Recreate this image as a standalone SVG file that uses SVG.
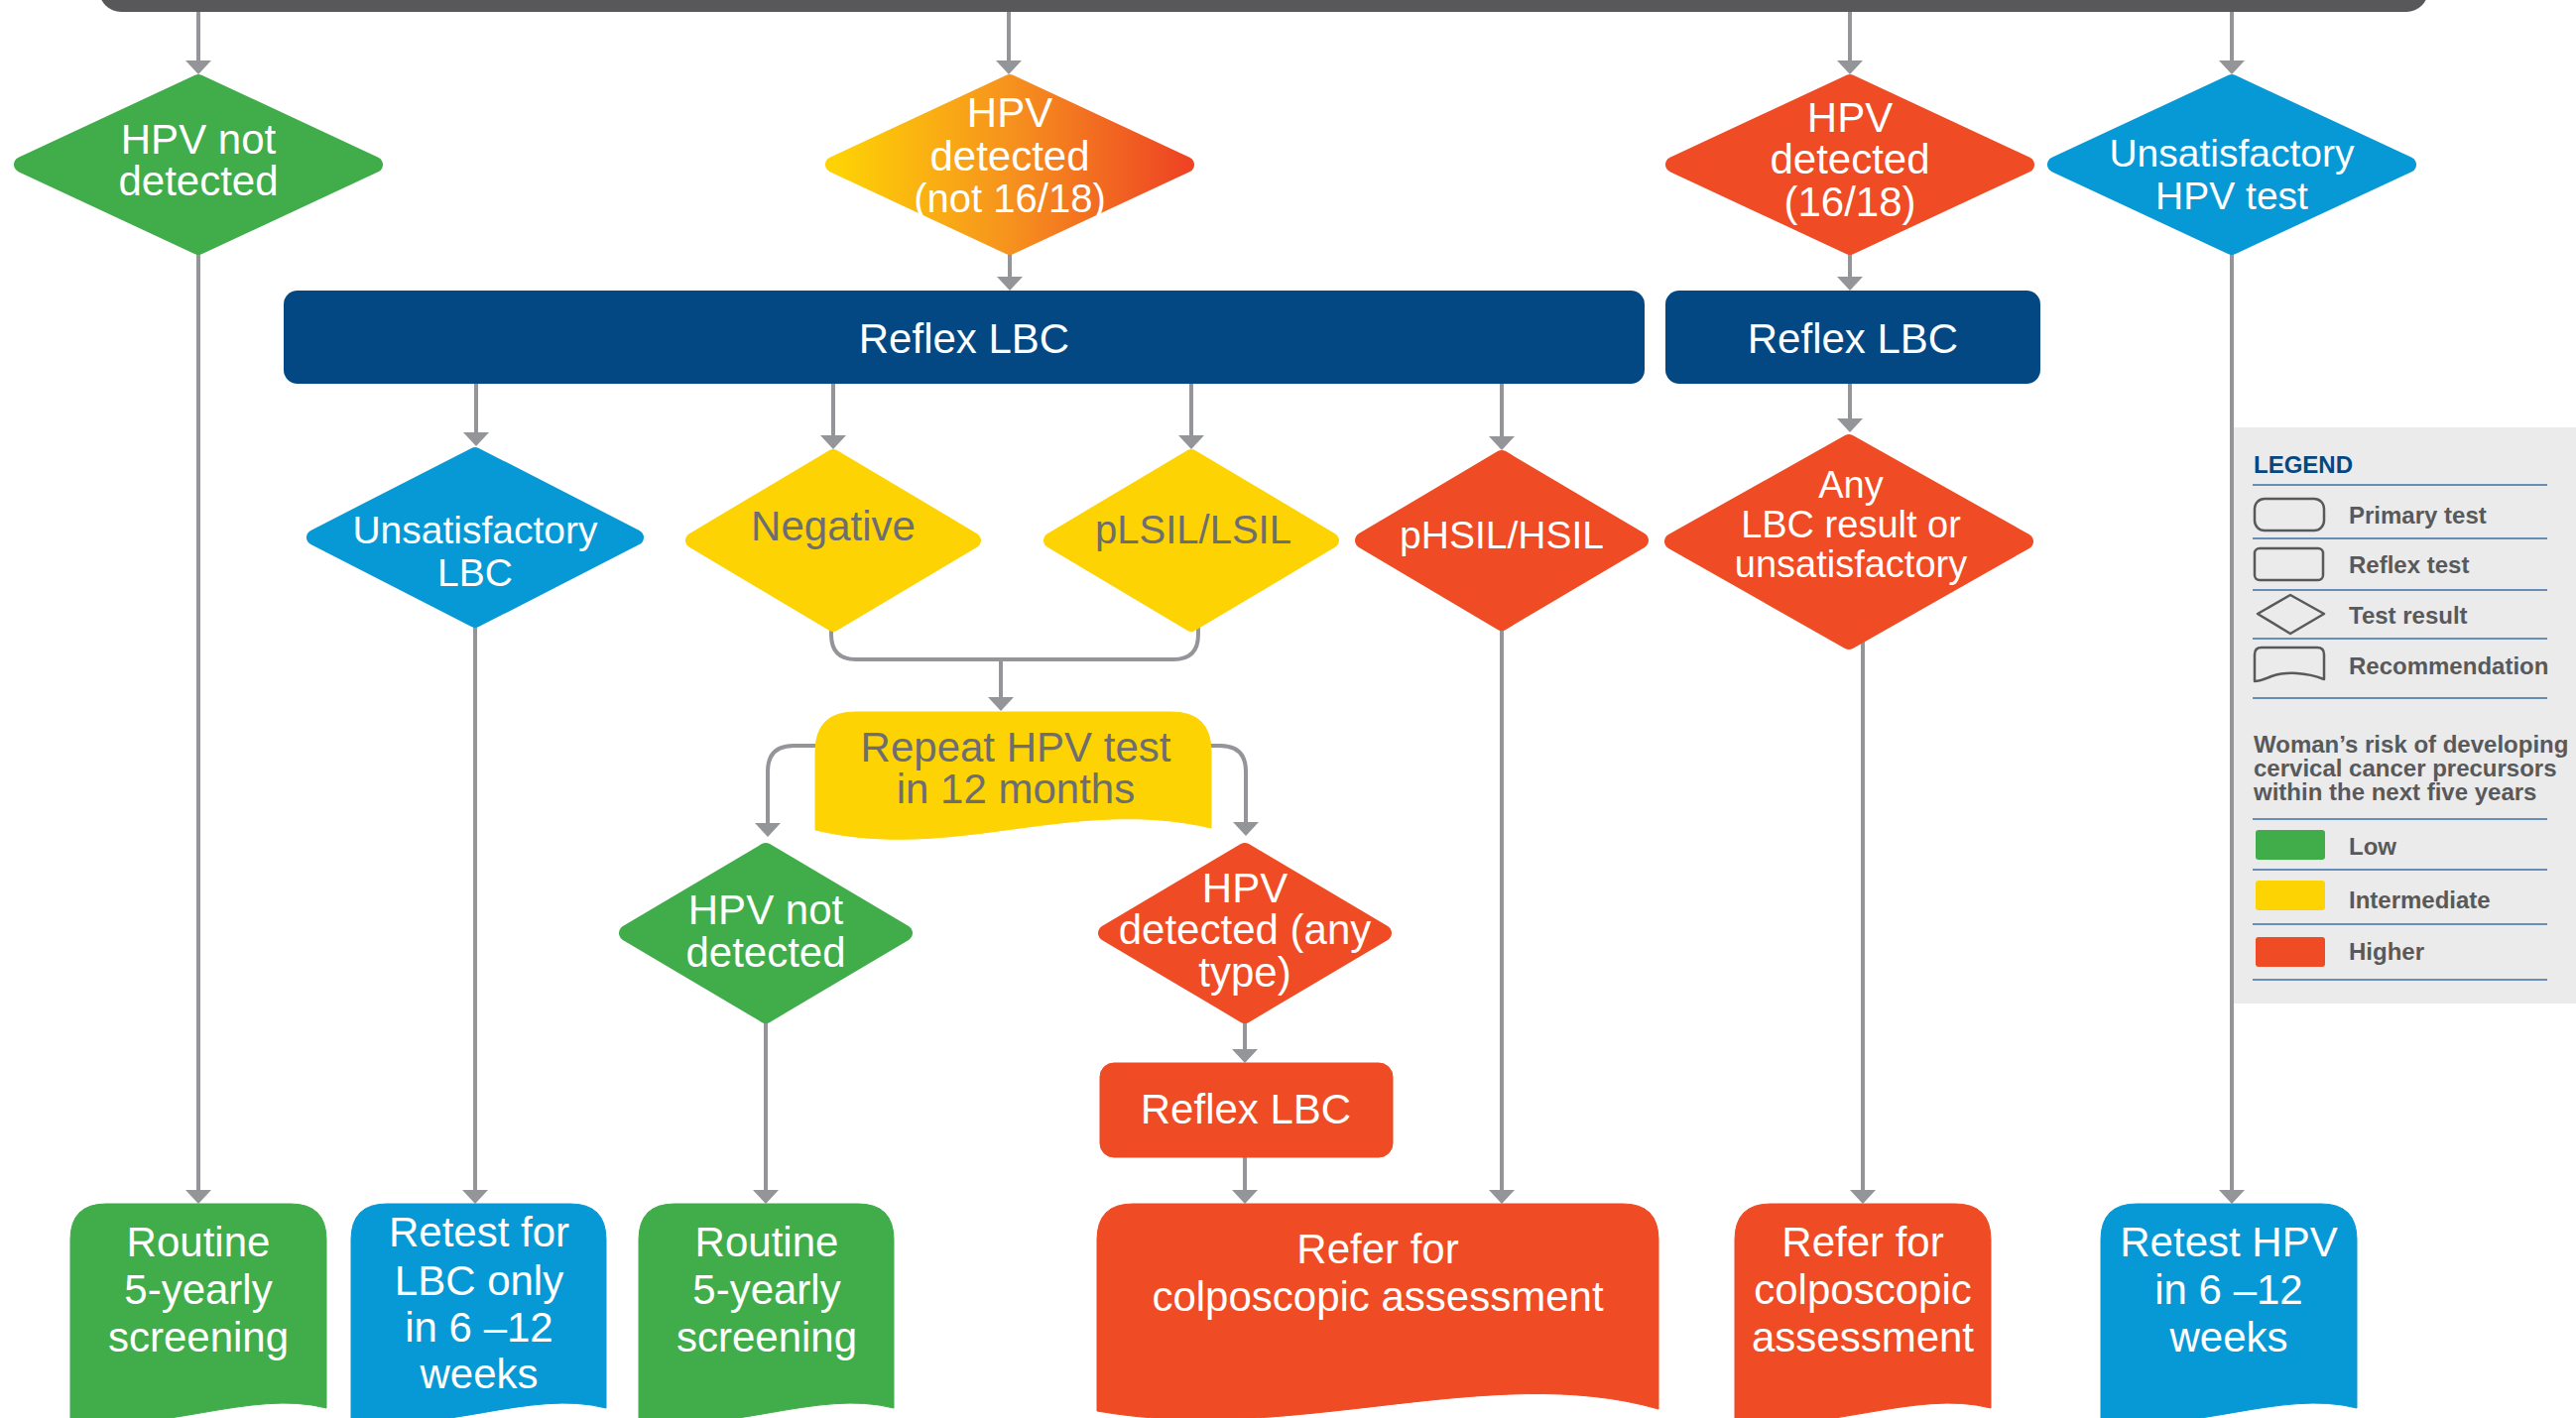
<svg xmlns="http://www.w3.org/2000/svg" width="2597" height="1430" viewBox="0 0 2597 1430">
<defs>
<linearGradient id="gOrange" x1="0" y1="0" x2="1" y2="0">
<stop offset="0" stop-color="#fed304"/>
<stop offset="0.5" stop-color="#f6921e"/>
<stop offset="1" stop-color="#ee4423"/>
</linearGradient>
<marker id="arr" viewBox="0 0 14 26" refX="10" refY="13" markerWidth="14" markerHeight="26" markerUnits="userSpaceOnUse" orient="auto">
<path d="M0,0 L14,13 L0,26 Z" fill="#939598"/>
</marker>
<style>
.t{font-family:"Liberation Sans",Arial,Helvetica,sans-serif;font-size:42px;fill:#fff;text-anchor:middle}
.g{fill:#6d6e71}
.dia{stroke-width:16;stroke-linejoin:round}
.green{fill:#40ad4a;stroke:#40ad4a}
.yellow{fill:#fed304;stroke:#fed304}
.red{fill:#ef4b24;stroke:#ef4b24}
.blue{fill:#0799d6;stroke:#0799d6}
.navy{fill:#034882}
.c{fill:none;stroke:#939598;stroke-width:4}
.ca{fill:none;stroke:#939598;stroke-width:4;marker-end:url(#arr)}
.lt{font-family:"Liberation Sans",Arial,Helvetica,sans-serif;font-size:24px;font-weight:bold;fill:#58595b}
.sep{stroke:#3d6fa6;stroke-width:1.6}
.ico{fill:none;stroke:#58595b;stroke-width:2.5;stroke-linejoin:round}
</style>
</defs>

<rect x="100" y="-40" width="2348" height="52" rx="22" fill="#58585a"/>

<g id="legend">
<rect x="2252" y="431" width="345" height="581" fill="#ebebeb"/>
<text class="lt" x="2272" y="477" style="fill:#034882">LEGEND</text>
<line class="sep" x1="2271" y1="489" x2="2568" y2="489"/>
<rect class="ico" x="2273" y="503" width="70" height="32" rx="10"/>
<text class="lt" x="2368" y="528">Primary test</text>
<line class="sep" x1="2271" y1="543" x2="2568" y2="543"/>
<rect class="ico" x="2273" y="553" width="69" height="32" rx="5"/>
<text class="lt" x="2368" y="578">Reflex test</text>
<line class="sep" x1="2271" y1="595" x2="2568" y2="595"/>
<path class="ico" d="M2276,619 L2309,600 L2343,619 L2309,639 Z"/>
<text class="lt" x="2368" y="629">Test result</text>
<line class="sep" x1="2271" y1="644" x2="2568" y2="644"/>
<path class="ico" d="M2273,687 V660 Q2273,653 2280,653 H2336 Q2343,653 2343,660 V685 C2325,678 2305,677 2290,682 C2283,685 2278,687 2273,687 Z"/>
<text class="lt" x="2368" y="680">Recommendation</text>
<line class="sep" x1="2271" y1="704" x2="2568" y2="704"/>
<text class="lt" x="2272" y="759">Woman’s risk of developing</text>
<text class="lt" x="2272" y="783">cervical cancer precursors</text>
<text class="lt" x="2272" y="807">within the next five years</text>
<line class="sep" x1="2271" y1="826" x2="2568" y2="826"/>
<rect x="2274" y="837" width="70" height="30" rx="3" fill="#40ad4a"/>
<text class="lt" x="2368" y="862">Low</text>
<line class="sep" x1="2271" y1="877" x2="2568" y2="877"/>
<rect x="2274" y="888" width="70" height="30" rx="3" fill="#fed304"/>
<text class="lt" x="2368" y="916">Intermediate</text>
<line class="sep" x1="2271" y1="932" x2="2568" y2="932"/>
<rect x="2274" y="945" width="70" height="30" rx="3" fill="#ef4b24"/>
<text class="lt" x="2368" y="968">Higher</text>
<line class="sep" x1="2271" y1="988" x2="2568" y2="988"/>
</g>

<g id="connectors">
<line class="ca" x1="200" y1="12" x2="200" y2="71"/>
<line class="ca" x1="1017" y1="12" x2="1017" y2="71"/>
<line class="ca" x1="1865" y1="12" x2="1865" y2="71"/>
<line class="ca" x1="2250" y1="12" x2="2250" y2="71"/>
<line class="ca" x1="1018" y1="250" x2="1018" y2="289"/>
<line class="ca" x1="1865" y1="250" x2="1865" y2="289"/>
<line class="ca" x1="200" y1="250" x2="200" y2="1210"/>
<line class="ca" x1="2250" y1="250" x2="2250" y2="1210"/>
<line class="ca" x1="480" y1="387" x2="480" y2="446"/>
<line class="ca" x1="840" y1="387" x2="840" y2="449"/>
<line class="ca" x1="1201" y1="387" x2="1201" y2="449"/>
<line class="ca" x1="1514" y1="387" x2="1514" y2="450"/>
<line class="ca" x1="1865" y1="387" x2="1865" y2="432"/>
<line class="ca" x1="479" y1="625" x2="479" y2="1210"/>
<path class="c" d="M838,628 V640 Q838,665 863,665 H1183 Q1208,665 1208,640 V628"/>
<line class="ca" x1="1009" y1="665" x2="1009" y2="713"/>
<path class="ca" d="M822,752 H800 Q774,752 774,778 V840"/>
<path class="ca" d="M1221,752 H1230 Q1256,752 1256,778 V839"/>
<line class="ca" x1="772" y1="1025" x2="772" y2="1210"/>
<line class="ca" x1="1255" y1="1025" x2="1255" y2="1068"/>
<line class="ca" x1="1255" y1="1167" x2="1255" y2="1210"/>
<line class="ca" x1="1514" y1="628" x2="1514" y2="1210"/>
<line class="ca" x1="1878" y1="640" x2="1878" y2="1210"/>
</g>

<g id="hpv-not-detected">
<path class="dia green" d="M200,83 L378,166 L200,249 L22,166 Z"/>
<text class="t" x="200" y="155">HPV not</text>
<text class="t" x="200" y="197">detected</text>
</g>
<g id="hpv-detected-not-16-18">
<path class="dia" fill="url(#gOrange)" stroke="url(#gOrange)" d="M1018,83 L1196,166 L1018,249 L840,166 Z"/>
<text class="t" x="1018" y="128">HPV</text>
<text class="t" x="1018" y="172">detected</text>
<text class="t" x="1018" y="214" style="font-size:40px">(not 16/18)</text>
</g>
<g id="hpv-detected-16-18">
<path class="dia red" d="M1865,83 L2043,166 L1865,249 L1687,166 Z"/>
<text class="t" x="1865" y="133">HPV</text>
<text class="t" x="1865" y="175">detected</text>
<text class="t" x="1865" y="218">(16/18)</text>
</g>
<g id="unsatisfactory-hpv">
<path class="dia blue" d="M2250,83 L2428,166 L2250,249 L2072,166 Z"/>
<text class="t" x="2250" y="168" style="font-size:39px">Unsatisfactory</text>
<text class="t" x="2250" y="211" style="font-size:39px">HPV test</text>
</g>

<g id="reflex-lbc-1">
<rect class="navy" x="286" y="293" width="1372" height="94" rx="14"/>
<text class="t" x="972" y="356">Reflex LBC</text>
</g>
<g id="reflex-lbc-2">
<rect class="navy" x="1679" y="293" width="378" height="94" rx="14"/>
<text class="t" x="1868" y="356">Reflex LBC</text>
</g>

<g id="unsatisfactory-lbc">
<path class="dia blue" d="M479,459 L641,542 L479,625 L317,542 Z"/>
<text class="t" x="479" y="548" style="font-size:39px">Unsatisfactory</text>
<text class="t" x="479" y="591" style="font-size:39px">LBC</text>
</g>
<g id="negative">
<path class="dia yellow" d="M840,461 L981,545 L840,629 L699,545 Z"/>
<text class="t g" x="840" y="545">Negative</text>
</g>
<g id="plsil">
<path class="dia yellow" d="M1201,461 L1342,545 L1201,629 L1060,545 Z"/>
<text class="t g" x="1203" y="548" style="font-size:40px">pLSIL/LSIL</text>
</g>
<g id="phsil">
<path class="dia red" d="M1514,462 L1654,545 L1514,628 L1374,545 Z"/>
<text class="t" x="1514" y="553" style="font-size:39px">pHSIL/HSIL</text>
</g>
<g id="any-lbc">
<path class="dia red" d="M1864,446 L2042,546 L1864,647 L1686,546 Z"/>
<text class="t" x="1866" y="502" style="font-size:38px">Any</text>
<text class="t" x="1866" y="542" style="font-size:38px">LBC result or</text>
<text class="t" x="1866" y="582" style="font-size:38px">unsatisfactory</text>
</g>

<g id="repeat-hpv">
<path class="yellow" stroke="none" d="M822,758 Q822,718 862,718 H1181 Q1221,718 1221,758 V835 C1081,802 962,870 822,837 Z"/>
<text class="t g" x="1024" y="768">Repeat HPV test</text>
<text class="t g" x="1024" y="810">in 12 months</text>
</g>

<g id="hpv-not-detected-2">
<path class="dia green" d="M772,858 L912,941 L772,1024 L632,941 Z"/>
<text class="t" x="772" y="932">HPV not</text>
<text class="t" x="772" y="975">detected</text>
</g>
<g id="hpv-detected-any">
<path class="dia red" d="M1255,858 L1395,941 L1255,1024 L1115,941 Z"/>
<text class="t" x="1255" y="910">HPV</text>
<text class="t" x="1255" y="952">detected (any</text>
<text class="t" x="1255" y="995">type)</text>
</g>
<g id="reflex-lbc-3">
<rect class="red" stroke="none" x="1109" y="1072" width="295" height="95" rx="14"/>
<text class="t" x="1256" y="1133">Reflex LBC</text>
</g>

<g id="routine-1">
<path class="green" stroke="none" d="M71,1250 Q71,1214 107,1214 H293 Q329,1214 329,1250 V1420 C252,1400 161,1448 71,1432 Z"/>
<text class="t" x="200" y="1267">Routine</text>
<text class="t" x="200" y="1315">5-yearly</text>
<text class="t" x="200" y="1363">screening</text>
</g>
<g id="retest-lbc">
<path class="blue" stroke="none" d="M354,1250 Q354,1214 390,1214 H575 Q611,1214 611,1250 V1420 C534,1400 444,1448 354,1432 Z"/>
<text class="t" x="483" y="1257">Retest for</text>
<text class="t" x="483" y="1306">LBC only</text>
<text class="t" x="483" y="1353">in 6 –12</text>
<text class="t" x="483" y="1400">weeks</text>
</g>
<g id="routine-2">
<path class="green" stroke="none" d="M644,1250 Q644,1214 680,1214 H865 Q901,1214 901,1250 V1420 C824,1400 734,1448 644,1432 Z"/>
<text class="t" x="773" y="1267">Routine</text>
<text class="t" x="773" y="1315">5-yearly</text>
<text class="t" x="773" y="1363">screening</text>
</g>
<g id="refer-1">
<path class="red" stroke="none" d="M1106,1250 Q1106,1214 1142,1214 H1636 Q1672,1214 1672,1250 V1421 C1502,1372 1304,1458 1106,1423 Z"/>
<text class="t" x="1389" y="1274">Refer for</text>
<text class="t" x="1389" y="1322">colposcopic assessment</text>
</g>
<g id="refer-2">
<path class="red" stroke="none" d="M1749,1250 Q1749,1214 1785,1214 H1971 Q2007,1214 2007,1250 V1420 C1930,1400 1839,1448 1749,1432 Z"/>
<text class="t" x="1878" y="1267">Refer for</text>
<text class="t" x="1878" y="1315">colposcopic</text>
<text class="t" x="1878" y="1363">assessment</text>
</g>
<g id="retest-hpv">
<path class="blue" stroke="none" d="M2118,1250 Q2118,1214 2154,1214 H2340 Q2376,1214 2376,1250 V1420 C2299,1400 2208,1448 2118,1432 Z"/>
<text class="t" x="2247" y="1267">Retest HPV</text>
<text class="t" x="2247" y="1315">in 6 –12</text>
<text class="t" x="2247" y="1363">weeks</text>
</g>
</svg>
